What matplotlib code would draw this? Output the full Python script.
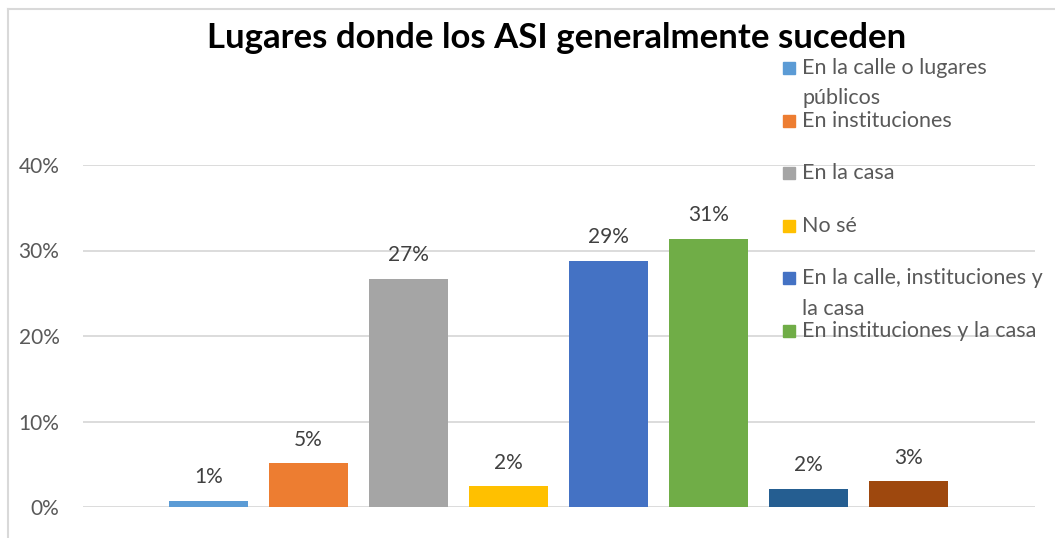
#!/usr/bin/env python
# bar chart: Lugares donde los ASI generalmente suceden

import matplotlib
matplotlib.use("Agg")
import matplotlib.pyplot as plt
from matplotlib.patches import Rectangle
from matplotlib.lines import Line2D

title = "Lugares donde los ASI generalmente suceden"
legend_labels = [
    "En la calle o lugares\npúblicos",
    "En instituciones",
    "En la casa",
    "No sé",
    "En la calle, instituciones y\nla casa",
    "En instituciones y la casa",
]
values = [0.007, 0.051, 0.267, 0.024, 0.288, 0.314, 0.021, 0.030]
colors = ["#5B9BD5", "#ED7D31", "#A5A5A5", "#FFC000",
          "#4472C4", "#70AD47", "#255E91", "#9E480E"]
yticks = [0.0, 0.1, 0.2, 0.3, 0.4]

W, H = 1055, 538
plt.rcParams['font.family'] = ['Lato', 'DejaVu Sans']
txt = "#595959"

fig = plt.figure(figsize=(W / 100, H / 100), dpi=100)

# plot area in pixels: x 83..1035, y(0%)=507, y(40%)=165
ax = fig.add_axes([83 / W, (H - 507) / H, (1035 - 83) / W, (507 - 165) / H])
ax.set_xlim(-1.255, 8.265)
ax.set_ylim(0, 0.4)

for i, v in enumerate(values):
    ax.bar(i, v, width=0.79, color=colors[i], zorder=3)
    ax.annotate(f"{v:.0%}", (i, v), xytext=(0, 17), textcoords="offset points",
                ha="center", va="center", fontsize=15, color="#404040")

ax.set_yticks(yticks)
ax.set_yticklabels([f"{t:.0%}" for t in yticks], fontsize=15, color=txt)
ax.tick_params(axis="y", length=0, pad=17)
ax.set_xticks([])
ax.grid(axis="y", color="#D9D9D9", linewidth=1.3, zorder=0)
for s in ax.spines.values():
    s.set_visible(False)

fig.text(557 / W, 1 - 38 / H, title, ha="center", va="center",
         fontsize=25, fontweight="bold", color="black")

# legend drawn over the plot area, as in the original
for i, lab in enumerate(legend_labels):
    yc = 68 + 52.6 * i
    fig.patches.append(Rectangle((783 / W, 1 - (yc + 6) / H), 12 / W, 12 / H,
                                 transform=fig.transFigure, color=colors[i], zorder=5))
    fig.text(802 / W, 1 - (yc - 10) / H, lab, ha="left", va="top",
             fontsize=15.5, color=txt, linespacing=1.65, zorder=5)

# chart border (left and top visible)
fig.lines.append(Line2D([8 / W, 8 / W], [0, 1 - 9 / H], transform=fig.transFigure,
                        color="#D9D9D9", linewidth=1.5))
fig.lines.append(Line2D([8 / W, 1], [1 - 9 / H, 1 - 9 / H], transform=fig.transFigure,
                        color="#D9D9D9", linewidth=1.5))

fig.savefig("out.png", dpi=100)
